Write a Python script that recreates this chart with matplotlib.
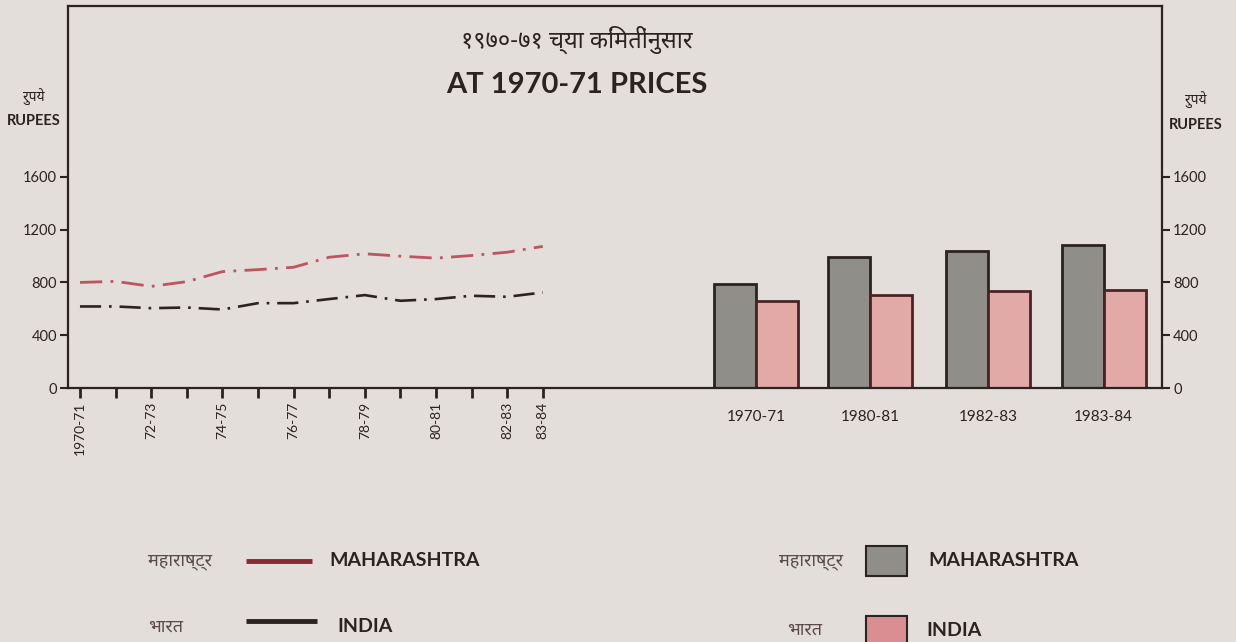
import matplotlib
matplotlib.use('Agg')
import matplotlib.pyplot as plt
from matplotlib.patches import Rectangle
from matplotlib.lines import Line2D

# line chart: every year 1970-71 .. 1983-84 (rupees, 1970-71 prices)
years = ['1970-71', '71-72', '72-73', '73-74', '74-75', '75-76', '76-77',
         '77-78', '78-79', '79-80', '80-81', '81-82', '82-83', '83-84']
year_labels = ['1970-71', '', '72-73', '', '74-75', '', '76-77',
               '', '78-79', '', '80-81', '', '82-83', '83-84']
maha_line = [800, 808, 770, 806, 882, 897, 915, 991, 1017, 999, 984, 1004, 1029, 1073]
india_line = [618, 618, 605, 610, 595, 643, 643, 674, 704, 661, 674, 699, 691, 724]

# bar chart: selected years
bar_years = ['1970-71', '1980-81', '1982-83', '1983-84']
maha_bar = [788, 989, 1035, 1086]
india_bar = [661, 704, 737, 742]

yticks = [0, 400, 800, 1200, 1600]

BG = '#e3ded9'
INK = '#2b2222'
RED = '#bb5560'
GREY = '#8f8e89'
PINK = '#e2aaa7'
DEV = ['Noto Sans Devanagari', 'Lohit Devanagari', 'Mukta', 'Lato', 'DejaVu Sans']

plt.rcParams['font.family'] = ['Lato', 'DejaVu Sans']

fig = plt.figure(figsize=(12.36, 6.42), dpi=100, facecolor=BG)
ax = fig.add_axes([0.0550, 0.3956, 0.8851, 0.5950])
ax.set_facecolor(BG)

x = list(range(len(years)))
ax.plot(x, maha_line, color=RED, lw=2, linestyle=(0, (8, 3, 1, 3)))
ax.plot(x, india_line, color=INK, lw=1.9, linestyle=(0, (8, 3, 1, 3)))

# bar groups sit right of the line chart
bar_pos = [19.0, 22.2, 25.5, 28.75]
w = 1.18
ax.bar([p - w/2 for p in bar_pos], maha_bar, width=w, color=GREY,
       edgecolor=INK, linewidth=2)
ax.bar([p + w/2 for p in bar_pos], india_bar, width=w, color=PINK,
       edgecolor='#4a2424', linewidth=2)

ax.set_xlim(-0.337, 30.39)
ax.set_ylim(0, 2894)

for s in ax.spines.values():
    s.set_color(INK)
    s.set_linewidth(1.6)

ax.set_yticks(yticks)
ax.tick_params(axis='y', left=True, right=True, labelleft=True, labelright=True,
               length=6, width=1.5, color=INK, labelsize=10.5, labelcolor=INK, pad=2)

ax.set_xticks(x, year_labels, rotation=90)
ax.tick_params(axis='x', which='major', length=7, width=2, color=INK,
               labelsize=10, labelcolor=INK, pad=3)
ax.set_xticks(bar_pos, bar_years, minor=True)
ax.tick_params(axis='x', which='minor', length=0, labelsize=11, labelcolor=INK,
               pad=16, labelrotation=0)

# titles
fig.text(0.467, 0.938, '१९७०-७१ च्या किंमतींनुसार', fontsize=17, color=INK,
         ha='center', va='center', family=DEV)
fig.text(0.467, 0.868, 'AT 1970-71 PRICES', fontsize=21, fontweight='bold',
         color=INK, ha='center', va='center')

# unit labels
fig.text(34/1236, 1 - 97/642, 'रुपये', fontsize=10, color=INK, ha='center',
         va='center', family=DEV)
fig.text(34/1236, 1 - 121/642, 'RUPEES', fontsize=10.5, fontweight='bold',
         color=INK, ha='center', va='center')
fig.text(1196/1236, 1 - 100/642, 'रुपये', fontsize=10, color=INK, ha='center',
         va='center', family=DEV)
fig.text(1196/1236, 1 - 125/642, 'RUPEES', fontsize=10.5, fontweight='bold',
         color=INK, ha='center', va='center')

# legends drawn by hand
def fx(px):
    return px / 1236

def fy(py):
    return 1 - py / 642

fig.text(fx(148), fy(561), 'महाराष्ट्र', fontsize=13, color='#5a4a4a', va='center',
         family=DEV)
fig.add_artist(Line2D([fx(246), fx(312)], [fy(561), fy(561)], color='#8a2a35',
                      lw=3.5, solid_capstyle='butt'))
fig.text(fx(329), fy(561), 'MAHARASHTRA', fontsize=14, fontweight='bold',
         color=INK, va='center')
fig.text(fx(148), fy(627), 'भारत', fontsize=13, color='#5a4a4a', va='center',
         family=DEV)
fig.add_artist(Line2D([fx(246), fx(317)], [fy(621), fy(621)], color=INK,
                      lw=3.5, solid_capstyle='butt'))
fig.text(fx(337), fy(627), 'INDIA', fontsize=14, fontweight='bold',
         color=INK, va='center')

fig.text(fx(779), fy(561), 'महाराष्ट्र', fontsize=13, color='#5a4a4a', va='center',
         family=DEV)
fig.add_artist(Rectangle((fx(866), fy(576)), fx(41), 30/642, facecolor=GREY,
                         edgecolor=INK, lw=1.5))
fig.text(fx(928), fy(561), 'MAHARASHTRA', fontsize=14, fontweight='bold',
         color=INK, va='center')
fig.text(fx(787), fy(630), 'भारत', fontsize=13, color='#5a4a4a', va='center',
         family=DEV)
fig.add_artist(Rectangle((fx(866), fy(645)), fx(41), 29/642, facecolor='#d98f92',
                         edgecolor=INK, lw=1.5))
fig.text(fx(926), fy(630), 'INDIA', fontsize=14, fontweight='bold',
         color=INK, va='center')

fig.savefig('out.png', dpi=100, facecolor=BG)
